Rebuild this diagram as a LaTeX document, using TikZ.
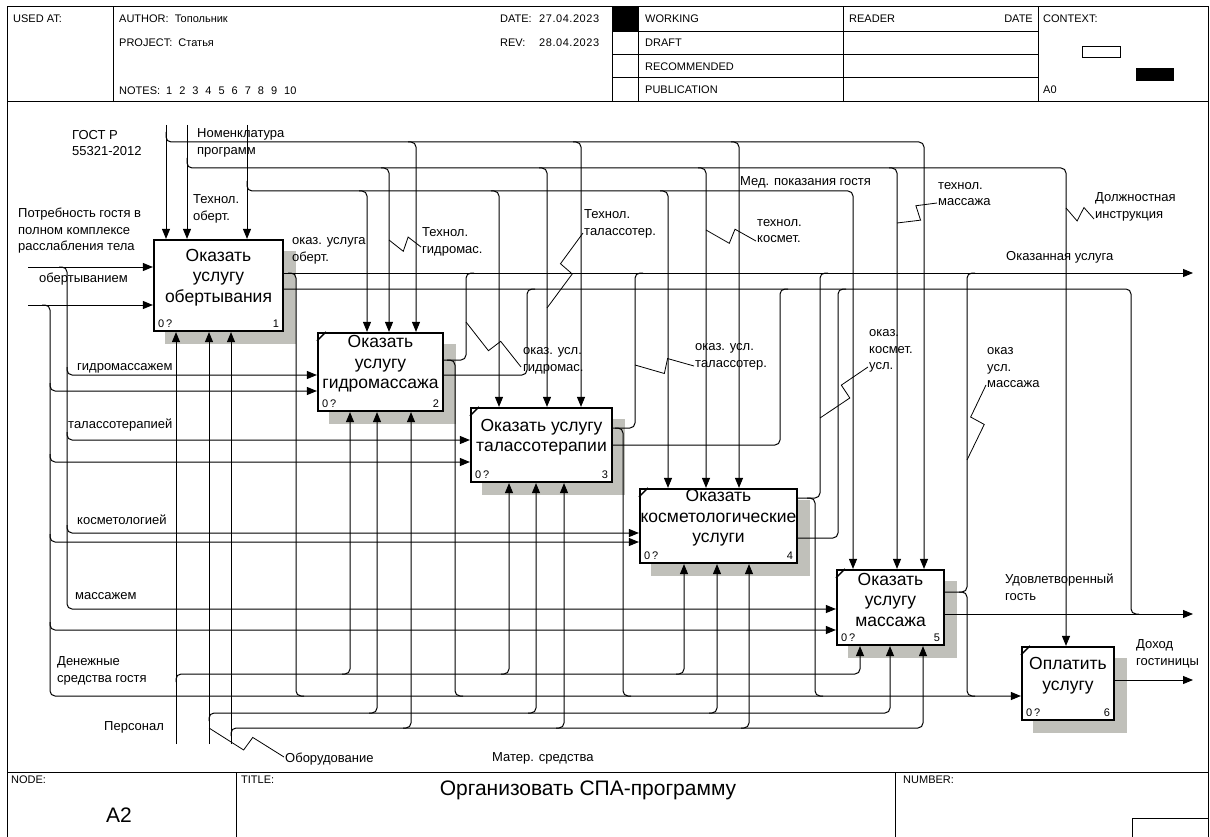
\documentclass[tikz,border=0pt]{standalone}
\usepackage{fontspec}
\setmainfont{Liberation Sans}
\usetikzlibrary{arrows.meta,calc,backgrounds}

\definecolor{shadegray}{RGB}{192,192,186}
\newcommand\hdrfont{\fontsize{11}{13}\selectfont}
\newcommand\lblfont{\fontsize{13}{16.5}\selectfont}
\newcommand\boxfont{\fontsize{17.5}{20.5}\selectfont}
\newcommand\numfont{\fontsize{11}{13}\selectfont}
\newcommand\bigfont{\fontsize{21}{25}\selectfont}
\newcommand\wide[1]{{\addfontfeatures{LetterSpace=5}#1}}
\newcommand\squig[2]{\draw[line width=0.8pt] (#1) -- ($(#1)!0.5!(#2)!8pt!-90:(#2)$) -- ($(#1)!0.55!(#2)!7pt!90:(#2)$) -- (#2);}

\begin{document}
\begin{tikzpicture}[x=1pt, y=-1pt,
  frame/.style={line width=1pt},
  fbox/.style={draw, line width=2.2pt, fill=white, inner sep=0pt},
  boxtxt/.style={font=\boxfont, align=center, inner sep=0pt},
  nlab/.style={font=\numfont, inner sep=0pt},
  hdr/.style={font=\hdrfont, anchor=west, inner sep=0pt},
  lbl/.style={font=\lblfont, align=left, anchor=west, inner sep=0pt},
  flow/.style={line width=1pt, rounded corners=5pt},
  flowin/.style={flow, -{Triangle[length=10pt,width=8pt]}}
]
\useasboundingbox (0,0) rectangle (1210,837);

\draw[frame] (7,837) -- (7,7) -- (1208,7) -- (1208,837);
\draw[frame] (7,102) -- (1208,102);
\foreach \x in {113,612,638,843,1038} \draw[frame] (\x,7) -- (\x,102);
\foreach \y in {32,55,78} \draw[frame] (612,\y) -- (1038,\y);
\fill (612,7) rectangle (638,32);
\draw[frame] (1082,47) rectangle (1120,58);
\fill (1136,68) rectangle (1174,81);
\draw[frame] (7,772) -- (1208,772);
\draw[frame] (236,772) -- (236,837);
\draw[frame] (895,772) -- (895,837);
\draw[frame] (1132,837) |- (1208,818);

\node[hdr] (hUsed) at (13,19) {USED AT:};
\node[hdr] (hAuthor) at (119,19) {AUTHOR:\ \ Топольник};
\node[hdr] (hProject) at (119,43) {PROJECT:\ \ Статья};
\node[hdr] (hNotes) at (119,91) {NOTES:\hspace{6pt}1\hspace{7pt}2\hspace{7pt}3\hspace{7pt}4\hspace{7pt}5\hspace{7pt}6\hspace{7pt}7\hspace{7pt}8\hspace{7pt}9\hspace{7pt}10};
\node[hdr] (hDate) at (500,19) {DATE:};
\node[hdr] (hDateV) at (539,19) {\wide{27.04.2023}};
\node[hdr] (hRev) at (500,43) {REV:};
\node[hdr] (hRevV) at (539,43) {\wide{28.04.2023}};
\node[hdr] (hWork) at (645,19) {WORKING};
\node[hdr] (hDraft) at (645,43) {DRAFT};
\node[hdr] (hRecom) at (645,67) {RECOMMENDED};
\node[hdr] (hPubl) at (645,90) {PUBLICATION};
\node[hdr] (hReader) at (849,19) {READER};
\node[hdr, anchor=east] (hRDate) at (1033,19) {DATE};
\node[hdr] (hCtx) at (1043,19) {CONTEXT:};
\node[hdr] (hA0) at (1043,90) {A0};
\node[hdr] (fNode) at (11,780) {NODE:};
\node[hdr] (fTitle) at (241,780) {TITLE:};
\node[hdr] (fNumber) at (903,780) {NUMBER:};
\node[font=\bigfont, inner sep=0pt] (fA2) at (119,815) {A2};
\node[font=\bigfont, inner sep=0pt] (fName) at (588,790) {Организовать СПА-программу};

\node[fbox, minimum width=129pt, minimum height=91pt] (b1) at (218.5,285.5) {};
\node[fbox, minimum width=125pt, minimum height=78pt] (b2) at (380.5,372) {};
\node[fbox, minimum width=141pt, minimum height=74pt] (b3) at (541.5,445) {};
\node[fbox, minimum width=157pt, minimum height=74pt] (b4) at (718.5,526) {};
\node[fbox, minimum width=107pt, minimum height=75pt] (b5) at (890.5,607.5) {};
\node[fbox, minimum width=92pt, minimum height=73pt] (b6) at (1068,683.5) {};
\begin{scope}[on background layer]
  \foreach \b in {b1,b2,b3,b4,b5,b6}
    \fill[shadegray] ([shift={(12,12)}]\b.north west) rectangle ([shift={(12,12)}]\b.south east);
\end{scope}
\foreach \b in {b2,b3,b4,b5,b6}
  \draw[line width=1.4pt] ([yshift=-9pt]\b.north west) -- ([xshift=9pt]\b.north west);
\node[boxtxt] (t1) at ([yshift=8pt]b1.center) {Оказать\\услугу\\обертывания};
\node[boxtxt] (t2) at ([yshift=8pt]b2.center) {Оказать\\услугу\\гидромассажа};
\node[boxtxt] (t3) at ([yshift=8pt]b3.center) {Оказать услугу\\талассотерапии};
\node[boxtxt] (t4) at ([yshift=8pt]b4.center) {Оказать\\косметологические\\услуги};
\node[boxtxt] (t5) at ([yshift=8pt]b5.center) {Оказать\\услугу\\массажа};
\node[boxtxt] (t6) at ([yshift=8pt]b6.center) {Оплатить\\услугу};
\foreach \b/\n in {b1/1,b2/2,b3/3,b4/4,b5/5,b6/6} {
  \node[nlab, anchor=south west] (\b q) at ([xshift=5pt,yshift=4pt]\b.south west) {0\,?};
  \node[nlab, anchor=south east] (\b n) at ([xshift=-5pt,yshift=4pt]\b.south east) {\n};
}

\node[lbl] (lGost) at (72,143) {ГОСТ Р\\55321-2012};
\node[lbl] (lNomen) at (197,143) {Номенклатура\\программ};
\node[lbl] (lTobert) at (193,209) {Технол.\\оберт.};
\node[lbl] (lNeed) at (18,231) {Потребность гостя в\\полном комплексе\\расслабления тела};
\node[lbl] (lObert) at (39,279) {обертыванием};
\node[lbl] (lOkObert) at (292,251) {оказ. услуга\\оберт.};
\node[lbl] (lTgidro) at (422,242) {Технол.\\гидромас.};
\node[lbl] (lTtalas) at (584,224) {Технол.\\талассотер.};
\node[lbl] (lTkosm) at (757,231) {технол.\\космет.};
\node[lbl] (lMed) at (740,182) {Мед. показания гостя};
\node[lbl] (lTmass) at (938,194) {технол.\\массажа};
\node[lbl] (lDolzh) at (1095,207) {Должностная\\инструкция};
\node[lbl] (lOkUsl) at (1006,257) {Оказанная услуга};
\node[lbl] (lOkGidro) at (523,361) {оказ. усл.\\гидромас.};
\node[lbl] (lOkTalas) at (695,357) {оказ. усл.\\талассотер.};
\node[lbl] (lOkKosm) at (869,351) {оказ.\\космет.\\усл.};
\node[lbl] (lOkMass) at (987,368) {оказ\\усл.\\массажа};
\node[lbl] (lGidrom) at (77,368) {гидромассажем};
\node[lbl] (lTalas) at (68,425) {талассотерапией};
\node[lbl] (lKosm) at (77,520) {косметологией};
\node[lbl] (lMassazh) at (75,596) {массажем};
\node[lbl] (lSat) at (1005,587) {Удовлетворенный\\гость};
\node[lbl] (lIncome) at (1136,654) {Доход\\гостиницы};
\node[lbl] (lMoney) at (57,671) {Денежные\\средства гостя};
\node[lbl] (lStaff) at (104,727) {Персонал};
\node[lbl] (lEquip) at (285,759) {Оборудование};
\node[lbl] (lMater) at (492,758) {Матер. средства};

\draw[flowin] (166,125) -- (166,0 |- b1.north);
\draw[flowin] (187,125) -- (187,0 |- b1.north);
\draw[flowin] (247,125) -- (247,0 |- b1.north);
\draw[flowin] (166,132) |- (924,142) -- (924,0 |- b5.north);
\draw[flowin] (408,142) -| (416,0 |- b2.north);
\draw[flowin] (573,142) -| (581,0 |- b3.north);
\draw[flowin] (731,142) -| (739,0 |- b4.north);
\draw[flowin] (187,158) |- (1066,168) -- (1066,0 |- b6.north);
\draw[flowin] (381,168) -| (389,0 |- b2.north);
\draw[flowin] (539,168) -| (547,0 |- b3.north);
\draw[flowin] (698,168) -| (706,0 |- b4.north);
\draw[flowin] (889,168) -| (897,0 |- b5.north);
\draw[flowin] (247,181) |- (853,191) -- (853,0 |- b5.north);
\draw[flowin] (359,191) -| (367,0 |- b2.north);
\draw[flowin] (491,191) -| (499,0 |- b3.north);
\draw[flowin] (660,191) -| (668,0 |- b4.north);

\draw[flowin] (28,267) -- (b1.west |- 0,267);
\draw[flowin] (28,305) -- (b1.west |- 0,305);
\draw[flowin] (59,267) -| (67,609) -- (b5.west |- 0,609);
\draw[flowin] (67,367) |- (b2.west |- 0,375);
\draw[flowin] (67,432) |- (b3.west |- 0,440);
\draw[flowin] (67,525) |- (b4.west |- 0,533);
\draw[flowin] (42,305) -| (50,696) -- (b6.west |- 0,696);
\draw[flowin] (50,383) |- (b2.west |- 0,391);
\draw[flowin] (50,454) |- (b3.west |- 0,462);
\draw[flowin] (50,534) |- (b4.west |- 0,542);
\draw[flowin] (50,622) |- (b5.west |- 0,630);

\draw[flowin] (176,744) -- (176,0 |- b1.south);
\draw[flowin] (209,744) -- (209,0 |- b1.south);
\draw[flowin] (231,744) -- (231,0 |- b1.south);
\draw[flowin] (176,682) |- (860,674) -- (860,0 |- b5.south);
\draw[flowin] (342,674) -| (350,0 |- b2.south);
\draw[flowin] (501,674) -| (509,0 |- b3.south);
\draw[flowin] (676,674) -| (684,0 |- b4.south);
\draw[flowin] (209,721) |- (890,713) -- (890,0 |- b5.south);
\draw[flowin] (369,713) -| (377,0 |- b2.south);
\draw[flowin] (528,713) -| (536,0 |- b3.south);
\draw[flowin] (709,713) -| (717,0 |- b4.south);
\draw[flowin] (231,736) |- (923,728) -- (923,0 |- b5.south);
\draw[flowin] (403,728) -| (411,0 |- b2.south);
\draw[flowin] (556,728) -| (564,0 |- b3.south);
\draw[flowin] (741,728) -| (749,0 |- b4.south);

\draw[flowin] (b1.east |- 0,273) -- (1193,273);
\draw[flow] (288,273) -| (296,696) -- (304,696);
\draw[flow] (b1.east |- 0,289) -| (1131,614) -- (1139,614);
\draw[flow] (b2.east |- 0,360) -| (466,273) -- (474,273);
\draw[flow] (447,360) -| (455,696) -- (463,696);
\draw[flow] (b2.east |- 0,375) -| (527,289) -- (535,289);
\draw[flow] (b3.east |- 0,428) -| (635,273) -- (643,273);
\draw[flow] (615,428) -| (623,696) -- (631,696);
\draw[flow] (b3.east |- 0,445) -| (780,289) -- (788,289);
\draw[flow] (b4.east |- 0,498) -| (820,273) -- (828,273);
\draw[flow] (807,498) -| (815,696) -- (823,696);
\draw[flow] (b4.east |- 0,538) -| (838,289) -- (846,289);
\draw[flow] (b5.east |- 0,592) -| (967,273) -- (975,273);
\draw[flow] (959,592) -| (967,696) -- (975,696);
\draw[flowin] (b5.east |- 0,614) -- (1193,614);
\draw[flowin] (b6.east |- 0,680) -- (1193,680);

\coordinate (qA1) at (389,240);  \coordinate (qA2) at (421,247);
\coordinate (qB1) at (547,308);  \coordinate (qB2) at (583,233);
\coordinate (qC1) at (706,230);  \coordinate (qC2) at (756,241);
\coordinate (qD1) at (897,223);  \coordinate (qD2) at (937,203);
\coordinate (qE1) at (1066,208); \coordinate (qE2) at (1094,219);
\coordinate (qF1) at (466,322);  \coordinate (qF2) at (521,367);
\coordinate (qG1) at (635,365);  \coordinate (qG2) at (694,366);
\coordinate (qH1) at (820,418);  \coordinate (qH2) at (868,367);
\coordinate (qI1) at (967,460);  \coordinate (qI2) at (986,385);
\coordinate (qJ1) at (209,728);  \coordinate (qJ2) at (284,757);
\squig{qA1}{qA2}
\squig{qB1}{qB2}
\squig{qC1}{qC2}
\squig{qD1}{qD2}
\squig{qE1}{qE2}
\squig{qF1}{qF2}
\squig{qG1}{qG2}
\squig{qH1}{qH2}
\squig{qI1}{qI2}
\squig{qJ1}{qJ2}
\end{tikzpicture}
\end{document}
